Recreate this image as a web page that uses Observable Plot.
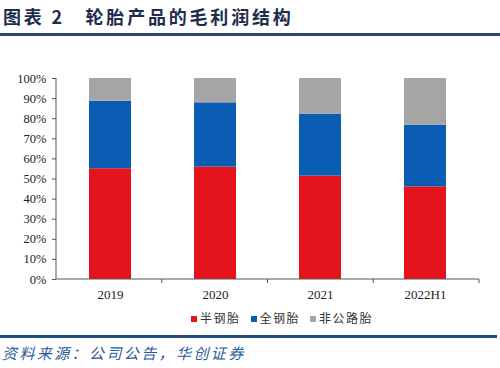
<!DOCTYPE html>
<html>
<head>
<meta charset="utf-8">
<script src="https://cdn.jsdelivr.net/npm/d3@7"></script>
<script src="https://cdn.jsdelivr.net/npm/@observablehq/plot@0.6"></script>
<style>
  html, body { margin: 0; padding: 0; background: #fff; }
  #wrap { position: relative; width: 500px; height: 368px; overflow: hidden; background: #fff; }
  #title { position: absolute; left: 3px; top: 4px; font-family: "Noto Sans CJK SC", sans-serif; font-weight: bold; font-size: 18px; letter-spacing: 2.8px; color: #1e2d4d; white-space: pre; line-height: 24px; }
  #tline { position: absolute; left: 0; top: 33px; width: 500px; height: 3px; background: #2b4669; }
  #chart { position: absolute; left: 0; top: 60px; }
  #legend { position: absolute; left: 191px; top: 308px; font-family: "Noto Sans CJK SC", sans-serif; font-size: 12px; letter-spacing: 1.5px; color: #333; white-space: nowrap; line-height: 20px; }
  #legend span.item { display: inline-block; margin-right: 10px; }
  #legend span.sw { display: inline-block; width: 6px; height: 6px; margin-right: 3px; vertical-align: 1px; }
  #bline { position: absolute; left: 0; top: 335px; width: 497px; height: 2.5px; background: #1f4b78; }
  #source { position: absolute; left: 2px; top: 342px; font-family: "Noto Sans CJK SC", sans-serif; font-style: italic; font-size: 15px; letter-spacing: 2.4px; color: #2a5d9a; white-space: nowrap; line-height: 22px; }
</style>
</head>
<body>
<div id="wrap">
  <div id="title"></div>
  <div id="tline"></div>
  <div id="chart"></div>
  <div id="legend"></div>
  <div id="bline"></div>
  <div id="source"></div>
</div>
<script>
const titleText = "图表 2   轮胎产品的毛利润结构";
const sourceText = "资料来源：公司公告，华创证券";
const years = ["2019", "2020", "2021", "2022H1"];
const seriesNames = ["半钢胎", "全钢胎", "非公路胎"];
const seriesColors = ["#e3141c", "#0b5db4", "#a5a5a5"];
const semiSteel = [55.1, 55.9, 51.4, 46.1];
const allSteel = [33.6, 32.0, 30.8, 30.7];
const offRoad = [11.3, 12.1, 17.8, 23.2];
const yTicks = [0, 0.1, 0.2, 0.3, 0.4, 0.5, 0.6, 0.7, 0.8, 0.9, 1.0];

document.getElementById("title").textContent = titleText;
document.getElementById("source").textContent = sourceText;

const seriesValues = [semiSteel, allSteel, offRoad];
const table = [];
years.forEach((yr, i) => {
  seriesNames.forEach((s, j) => {
    table.push({ year: yr, type: s, value: seriesValues[j][i] / 100 });
  });
});

// custom axis lines: left and bottom domain lines + ticks at band boundaries
function axisLines(index, scales, values, dimensions) {
  const g = d3.create("svg:g");
  const x = scales.x, y = scales.y;
  const left = dimensions.marginLeft;
  const right = dimensions.width - dimensions.marginRight;
  const y0 = y(0), y1 = y(1);
  g.append("line").attr("x1", left).attr("x2", left).attr("y1", y1).attr("y2", y0)
    .attr("stroke", "#555").attr("stroke-width", 1);
  g.append("line").attr("x1", left).attr("x2", right).attr("y1", y0).attr("y2", y0)
    .attr("stroke", "#555").attr("stroke-width", 1);
  const step = (right - left) / years.length;
  years.forEach((yr, i) => {
    const xr = left + step * (i + 1);
    g.append("line").attr("x1", xr).attr("x2", xr).attr("y1", y0).attr("y2", y0 + 4)
      .attr("stroke", "#555").attr("stroke-width", 1);
  });
  return g.node();
}

const chart = Plot.plot({
  width: 500,
  height: 250,
  marginLeft: 56,
  marginRight: 21,
  marginTop: 18,
  marginBottom: 31,
  style: { fontFamily: "'Liberation Serif', 'Times New Roman', serif", fontSize: "12.5px", color: "#222", background: "transparent" },
  x: { domain: years, paddingInner: 0.6, paddingOuter: 0.3, label: null },
  y: { domain: [0, 1], label: null },
  color: { domain: seriesNames, range: seriesColors },
  marks: [
    Plot.barY(table, { x: "year", y: "value", fill: "type", order: seriesNames }),
    Plot.axisY({ ticks: yTicks, tickFormat: d => Math.round(d * 100) + "%", tickSize: 4, tickPadding: 6, stroke: "#555", label: null }),
    Plot.axisX({ tickSize: 0, tickPadding: 10, fontSize: 13, label: null }),
    axisLines
  ]
});
document.getElementById("chart").appendChild(chart);

const legend = document.getElementById("legend");
seriesNames.forEach((s, j) => {
  const item = document.createElement("span");
  item.className = "item";
  const sw = document.createElement("span");
  sw.className = "sw";
  sw.style.background = seriesColors[j];
  item.appendChild(sw);
  item.appendChild(document.createTextNode(s));
  legend.appendChild(item);
});
</script>
</body>
</html>
